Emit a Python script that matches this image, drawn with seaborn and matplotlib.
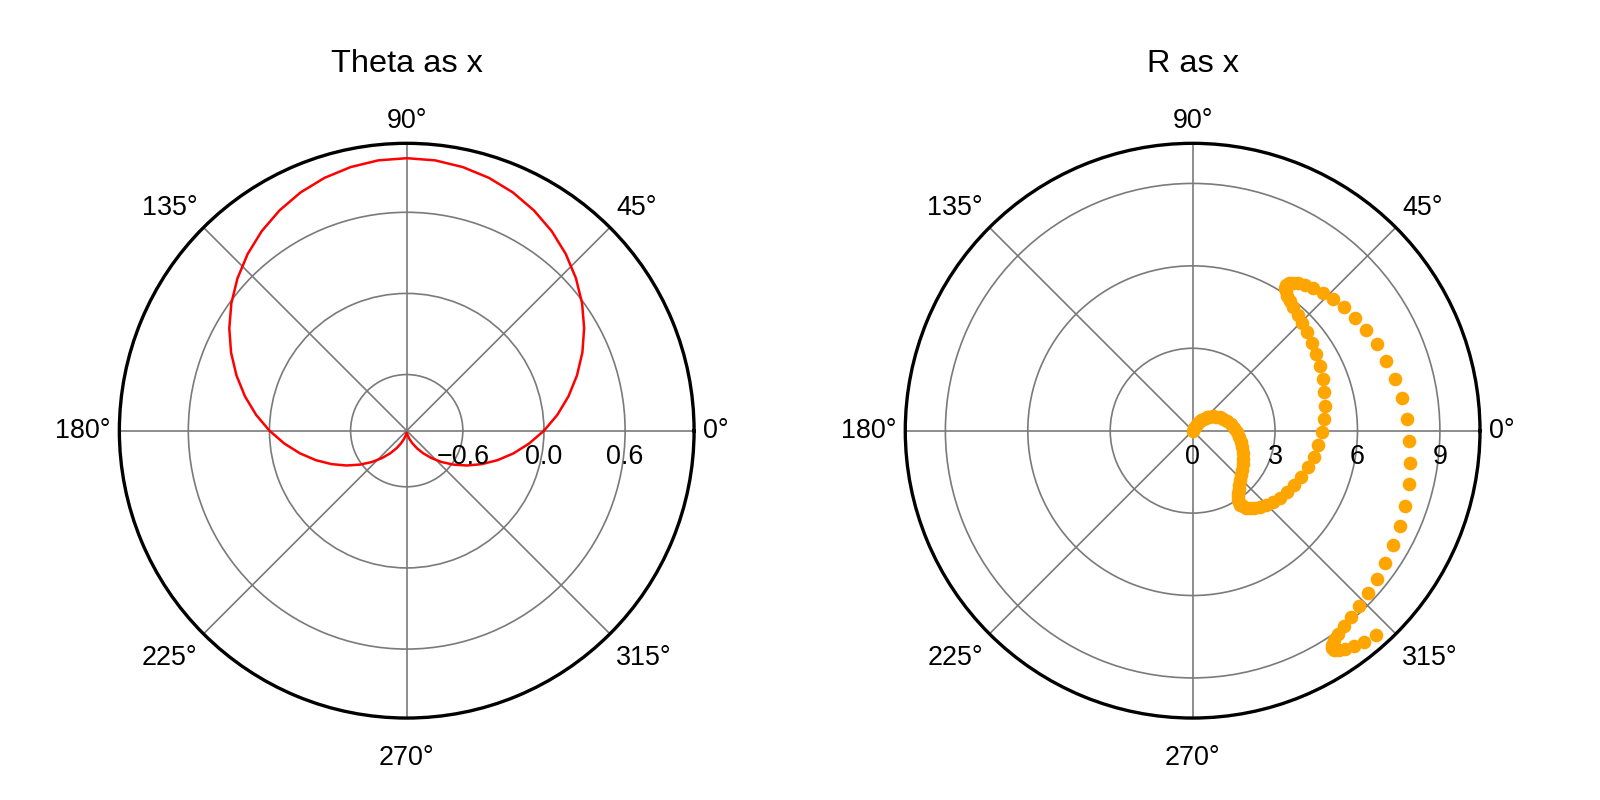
import numpy as np
import matplotlib.pyplot as plt
import seaborn as sns

# --- data ---
# left panel: theta is the x variable (degrees, 6 degree steps), r = curve value
theta_left_deg = [0, 6, 12, 18, 24, 30, 36, 42, 48, 54, 60, 66, 72, 78, 84, 90,
                  96, 102, 108, 114, 120, 126, 132, 138, 144, 150, 156, 162, 168, 174, 180,
                  186, 192, 198, 204, 210, 216, 222, 228, 234, 240, 246, 252, 258, 264, 270,
                  276, 282, 288, 294, 300, 306, 312, 318, 324, 330, 336, 342, 348, 354, 360]
r_left = [0.0, 0.105, 0.208, 0.309, 0.407, 0.5, 0.588, 0.669, 0.743, 0.809, 0.866,
          0.914, 0.951, 0.978, 0.995, 1.0, 0.995, 0.978, 0.951, 0.914, 0.866,
          0.809, 0.743, 0.669, 0.588, 0.5, 0.407, 0.309, 0.208, 0.105, 0.0,
          -0.105, -0.208, -0.309, -0.407, -0.5, -0.588, -0.669, -0.743, -0.809, -0.866,
          -0.914, -0.951, -0.978, -0.995, -1.0, -0.995, -0.978, -0.951, -0.914, -0.866,
          -0.809, -0.743, -0.669, -0.588, -0.5, -0.407, -0.309, -0.208, -0.105, 0.0]

# right panel: r is the x variable, theta (radians)
r_right = [0.0, 0.1, 0.2, 0.3, 0.4, 0.5, 0.6, 0.7, 0.8, 0.9,
           1.0, 1.1, 1.2, 1.3, 1.4, 1.5, 1.6, 1.7, 1.8, 1.9,
           2.0, 2.1, 2.2, 2.3, 2.4, 2.5, 2.6, 2.7, 2.8, 2.9,
           3.0, 3.1, 3.2, 3.3, 3.4, 3.5, 3.6, 3.7, 3.8, 3.9,
           4.0, 4.1, 4.2, 4.3, 4.4, 4.5, 4.6, 4.7, 4.8, 4.9,
           5.0, 5.1, 5.2, 5.3, 5.4, 5.5, 5.6, 5.7, 5.8, 5.9,
           6.0, 6.1, 6.2, 6.3, 6.4, 6.5, 6.6, 6.7, 6.8, 6.9,
           7.0, 7.1, 7.2, 7.3, 7.4, 7.5, 7.6, 7.7, 7.8, 7.9,
           8.0, 8.1, 8.2, 8.3, 8.4, 8.5, 8.6, 8.7, 8.8, 8.9,
           9.0, 9.1, 9.2, 9.3, 9.4, 9.5, 9.6, 9.7, 9.8, 9.9, 10.0]
theta_right = [1.000, 0.995, 0.980, 0.955, 0.921, 0.878, 0.825, 0.765, 0.697, 0.622,
               0.540, 0.454, 0.362, 0.267, 0.170, 0.071, -0.029, -0.129, -0.227, -0.323,
               -0.416, -0.505, -0.589, -0.666, -0.737, -0.801, -0.857, -0.904, -0.942, -0.971,
               -0.990, -0.999, -0.998, -0.987, -0.967, -0.936, -0.897, -0.848, -0.791, -0.726,
               -0.654, -0.575, -0.490, -0.401, -0.307, -0.211, -0.112, -0.012, 0.087, 0.187,
               0.284, 0.378, 0.469, 0.554, 0.635, 0.709, 0.776, 0.835, 0.886, 0.927,
               0.960, 0.983, 0.997, 1.000, 0.993, 0.977, 0.950, 0.914, 0.869, 0.815,
               0.754, 0.685, 0.608, 0.526, 0.439, 0.347, 0.252, 0.154, 0.054, -0.046,
               -0.146, -0.244, -0.340, -0.432, -0.519, -0.602, -0.678, -0.748, -0.811, -0.866,
               -0.911, -0.948, -0.975, -0.993, -1.000, -0.997, -0.984, -0.962, -0.930, -0.889, -0.839]

angle_ticks = [0, 45, 90, 135, 180, 225, 270, 315]
r_ticks_left = [-0.6, 0.0, 0.6]
r_ticks_right = [0, 3, 6, 9]

sns.set_theme(style="white")
plt.rcParams['font.family'] = ['Liberation Sans', 'DejaVu Sans']
plt.rcParams['text.color'] = 'black'
plt.rcParams['axes.titlecolor'] = 'black'

fig = plt.figure(figsize=(8, 4), dpi=200)
ax1 = fig.add_axes([0.0746, 0.1024, 0.3592, 0.7185], projection='polar')
ax2 = fig.add_axes([0.5658, 0.1024, 0.3592, 0.7185], projection='polar')

sns.lineplot(x=np.deg2rad(theta_left_deg), y=r_left, sort=False, estimator=None,
             color='red', linewidth=0.9, ax=ax1, zorder=3)
sns.scatterplot(x=theta_right, y=r_right, color='orange', s=24, linewidth=0,
                ax=ax2, zorder=3)


def style_polar(ax, rmin, rmax, rticks, fmt, title):
    ax.set_ylim(rmin, rmax)
    ax.set_yticks(rticks)
    ax.set_yticklabels([])
    ax.set_xticks(np.deg2rad(angle_ticks))
    ax.set_xticklabels([])
    ax.set_xlabel('')
    ax.set_ylabel('')
    ax.tick_params(length=0)
    ax.grid(True, color='#7a7a7a', linewidth=0.6)
    ax.spines['polar'].set_color('black')
    ax.spines['polar'].set_linewidth(1.2)
    ax.set_facecolor('white')

    # angle labels just outside the outer circle
    d = 9
    for a in angle_ticks:
        c, s = np.cos(np.deg2rad(a)), np.sin(np.deg2rad(a))
        ha = 'left' if c > 0.1 else ('right' if c < -0.1 else 'center')
        va = 'bottom' if s > 0.1 else ('top' if s < -0.1 else 'center')
        extra = 18 * s ** 4 if s < -0.1 else 0
        ax.annotate(f'{a}°', xy=(np.deg2rad(a), rmax), xytext=(d * c, d * s - extra),
                    textcoords='offset pixels', ha=ha, va=va, fontsize=9.7,
                    color='black', annotation_clip=False)

    # radial labels under the 0° line
    for r in rticks:
        ax.annotate(fmt(r), xy=(0, r), xytext=(0, -26), textcoords='offset pixels',
                    ha='center', va='center', fontsize=9.7, color='black', zorder=4)

    ax.set_title(title, fontsize=11.7, y=1.1246, pad=0, color='black')


style_polar(ax1, -1.015, 1.11, r_ticks_left,
            lambda v: f'{v:.1f}'.replace('-', '\u2212'), 'Theta as x')
style_polar(ax2, 0, 10.46, r_ticks_right, lambda v: f'{v:d}', 'R as x')

fig.savefig('out.png', dpi=200)
